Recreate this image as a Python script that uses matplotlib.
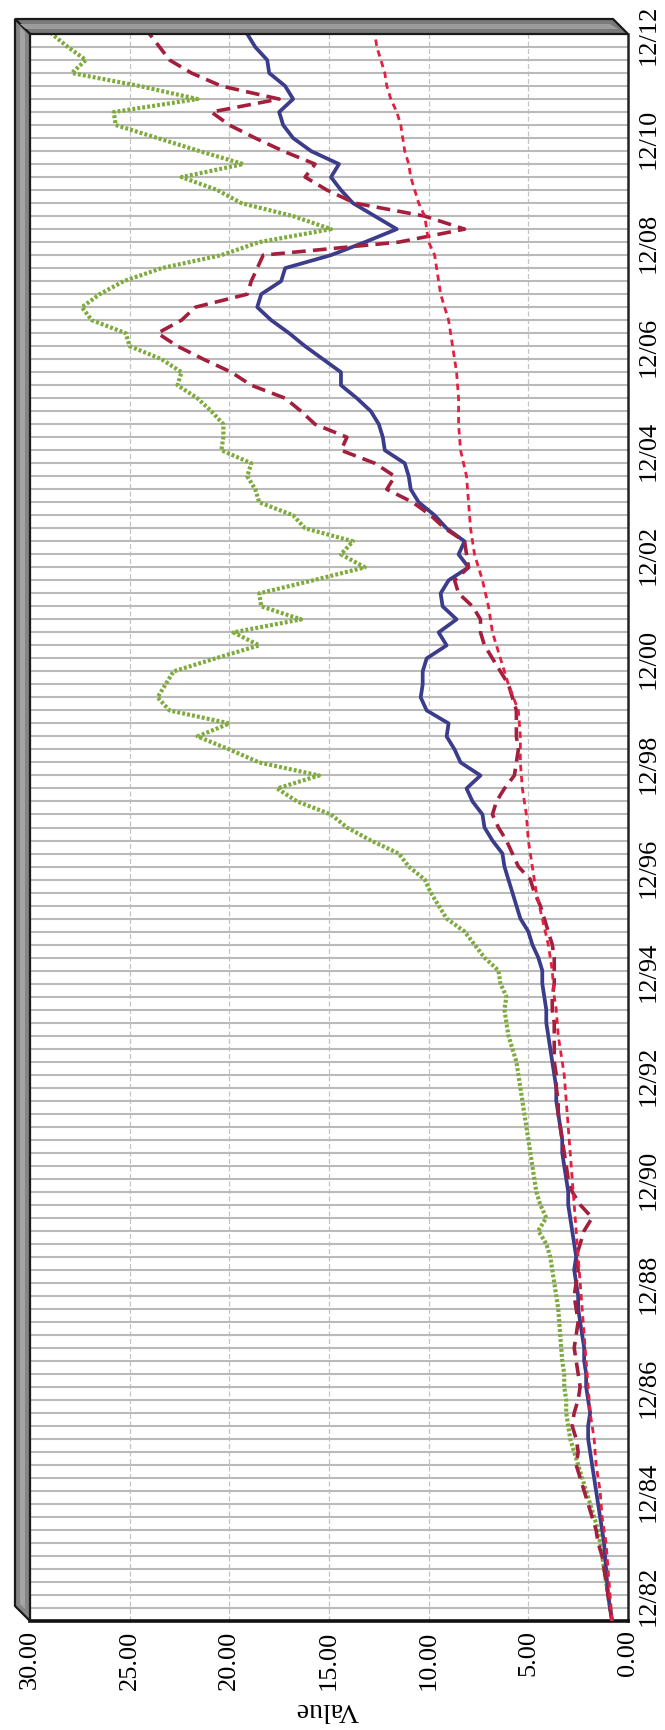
import matplotlib
matplotlib.use("Agg")
import matplotlib.pyplot as plt
from matplotlib.patches import Polygon
from matplotlib.ticker import MultipleLocator, FixedLocator

# ---------------- data (quarterly, 6/82 .. 12/12) ----------------
years_lbl = ["82", "84", "86", "88", "90", "92", "94", "96", "98", "00",
             "02", "04", "06", "08", "10", "12"]
tick_labels = ["12/" + y for y in years_lbl]
value_ticks = [0, 5, 10, 15, 20, 25, 30]

blue = [0.8, 0.9, 1.0, 1.05, 1.1, 1.15, 1.2, 1.3, 1.4, 1.5, 1.6, 1.7, 1.8, 1.9, 2.0, 2.0,
        1.9, 2.0, 2.1, 2.1, 2.2, 2.2, 2.3, 2.4, 2.5, 2.5, 2.6, 2.7, 2.6, 2.7, 2.8, 2.9,
        3.0, 3.0, 3.1, 3.2, 3.3, 3.3, 3.4, 3.5, 3.6, 3.6, 3.7, 3.8, 3.9, 4.0, 4.1, 4.1,
        4.2, 4.3, 4.3, 4.5, 4.8, 5.0, 5.4, 5.6, 5.8, 6.0, 6.2, 6.3, 6.8, 7.2, 7.3, 7.8,
        8.1, 7.4, 8.4, 8.7, 9.1, 9.0,
        10.1, 10.4, 10.3, 10.3, 10.1, 9.1, 9.5, 8.6, 9.3, 9.4, 9.0, 8.0, 8.5, 8.2, 9.1, 9.7,
        10.5, 10.9, 11.0, 11.2, 12.2, 12.3, 12.5, 12.9, 13.6, 14.4, 14.4, 15.3, 16.2, 17.0,
        17.9, 18.6,
        18.4, 17.4, 17.2, 14.9, 13.2, 11.6, 12.7, 13.8, 14.4, 14.9, 14.5, 15.9, 16.8, 17.3,
        17.5, 16.8, 17.2, 18.0, 18.1, 18.7, 19.1]

maroon = [0.8, 0.9, 1.0, 1.1, 1.2, 1.3, 1.5, 1.6, 1.8, 2.0, 2.2, 2.4, 2.6, 2.5, 2.6, 2.8,
          2.7, 2.5, 2.4, 2.5, 2.6, 2.7, 2.6, 2.5, 2.6, 2.7, 2.6, 2.5, 2.6, 2.4, 2.2, 1.8,
          2.4, 2.8, 3.0, 3.1, 3.2, 3.3, 3.4, 3.5, 3.5, 3.6, 3.6, 3.7, 3.7, 3.7, 3.7, 3.8,
          3.8, 3.7, 3.7, 3.7, 3.8, 4.0, 4.2, 4.4, 4.7, 4.9, 5.5, 5.8, 6.1, 6.5, 6.8, 6.6,
          6.2, 5.7, 5.6, 5.5, 5.6, 5.6,
          5.6, 5.8, 6.0, 6.4, 6.8, 7.2, 7.4, 7.4, 7.8, 8.5, 8.7, 8.0, 8.1, 8.2, 9.2, 9.9,
          10.8, 12.1, 11.7, 12.7, 14.4, 14.1, 15.7, 16.4, 17.2, 18.9, 19.9, 21.3, 22.6, 23.6,
          22.4, 21.7,
          19.1, 18.9, 18.6, 18.3, 11.5, 8.2, 10.2, 13.7, 15.1, 16.2, 15.7, 17.3, 18.7, 20.0,
          20.9, 17.5, 20.4, 21.9, 23.0, 23.5, 24.0]

crimson = [0.8, 0.85, 0.9, 0.95, 1.0, 1.05, 1.1, 1.2, 1.3, 1.35, 1.4, 1.5, 1.6, 1.65, 1.7, 1.8,
           1.9, 1.95, 2.0, 2.05, 2.1, 2.15, 2.2, 2.25, 2.3, 2.35, 2.4, 2.45, 2.5, 2.55, 2.6, 2.65,
           2.7, 2.75, 2.8, 2.85, 2.9, 2.95, 3.0, 3.05, 3.1, 3.15, 3.2, 3.3, 3.4, 3.5, 3.55, 3.6,
           3.7, 3.75, 3.8, 3.9, 4.0, 4.15, 4.3, 4.45, 4.6, 4.7, 4.8, 4.9, 5.0, 5.05, 5.1, 5.2,
           5.3, 5.35, 5.4, 5.4, 5.4, 5.45,
           5.5, 5.75, 6.0, 6.2, 6.4, 6.6, 6.8, 6.9, 7.0, 7.15, 7.3, 7.5, 7.7, 7.8, 7.9, 7.95,
           8.0, 8.05, 8.1, 8.25, 8.4, 8.45, 8.5, 8.5, 8.5, 8.55, 8.6, 8.7, 8.8, 8.9,
           9.0, 9.2,
           9.4, 9.5, 9.6, 9.7, 10.0, 10.1, 10.2, 10.5, 10.7, 10.9, 11.0, 11.2, 11.3, 11.4,
           11.6, 11.9, 12.1, 12.2, 12.4, 12.6, 12.7]

green = [0.8, 0.9, 1.0, 1.1, 1.2, 1.3, 1.4, 1.5, 1.7, 1.9, 2.1, 2.3, 2.5, 2.7, 2.9, 3.0,
         3.1, 3.1, 3.2, 3.2, 3.3, 3.35, 3.4, 3.45, 3.5, 3.6, 3.7, 3.8, 3.9, 4.1, 4.5, 4.1,
         4.4, 4.6, 4.7, 4.8, 4.9, 5.0, 5.1, 5.2, 5.3, 5.4, 5.5, 5.6, 5.8, 6.0, 6.1, 6.2,
         6.1, 6.4, 6.5, 7.2, 7.7, 8.2, 9.1, 9.5, 9.9, 10.2, 11.0, 11.5, 12.9, 14.1, 14.9, 16.6,
         17.6, 15.5, 18.5, 20.0, 21.6, 20.0,
         23.0, 23.6, 23.2, 22.8, 20.7, 18.5, 19.8, 16.4, 18.4, 18.5, 15.8, 13.2, 14.4, 13.8,
         16.2, 16.8, 18.5, 18.7, 19.1, 18.9, 20.4, 20.3, 20.3, 20.9, 21.6, 22.6, 22.4, 23.4,
         25.0, 25.2, 26.9, 27.4,
         26.5, 25.3, 23.4, 20.4, 18.5, 14.9, 16.8, 19.4, 20.6, 22.4, 19.3, 21.5, 23.6, 25.7,
         25.8, 21.6, 24.5, 27.9, 27.2, 28.1, 28.9]

n = len(blue)
idx = list(range(n))
label_pos = [2 + 8 * k for k in range(len(tick_labels))]

W, H = 665, 1731
fig = plt.figure(figsize=(W / 100, H / 100), dpi=100)
fig.patch.set_facecolor("white")

L, R, T, B = 30, 628, 35, 1622
ax = fig.add_axes([L / W, 1 - B / H, (R - L) / W, (B - T) / H])
ax.set_facecolor("white")
ax.set_xlim(30, 0)
ax.set_ylim(0, n - 1)

# grid
ax.yaxis.set_minor_locator(MultipleLocator(1))
ax.yaxis.set_major_locator(FixedLocator(label_pos))
ax.grid(which="both", axis="y", color="#bababa", lw=1.5, zorder=0)
ax.set_xticks(value_ticks)
ax.grid(which="major", axis="x", color="#c4c4c4", lw=0.9, ls=(0, (4, 2)), zorder=0)
ax.set_axisbelow(True)

serif = ["Liberation Serif", "DejaVu Serif"]
ax.set_xticklabels(["%.2f" % v for v in value_ticks], rotation=90,
                   fontsize=19, family=serif)
ax.yaxis.tick_right()
ax.set_yticklabels(tick_labels, rotation=90, va="center", fontsize=19, family=serif)
ax.tick_params(axis="x", which="both", length=0, pad=6)
ax.tick_params(axis="y", which="both", length=0, pad=7)

for s in ["left", "top"]:
    ax.spines[s].set_visible(False)
ax.spines["right"].set_color("#222222")
ax.spines["right"].set_linewidth(1.8)
ax.spines["bottom"].set_color("#111111")
ax.spines["bottom"].set_linewidth(2.6)

# series
ax.plot(green, idx, color="#7eab3c", lw=3.0, ls=(0, (0.7, 0.5)), zorder=3,
        dash_capstyle="butt")
ax.plot(blue, idx, color="#3c3c8c", lw=2.7, zorder=4)
ax.plot(maroon, idx, color="#a41f3d", lw=2.6, ls=(0, (3.8, 2.0)), zorder=5)
ax.plot(crimson, idx, color="#e3203f", lw=2.0, ls=(0, (2.3, 1.7)), zorder=6)

# 3D walls
def P(px, py):
    return (px / W, 1 - py / H)

top_wall = Polygon([P(15, 20), P(613, 20), P(628, 35), P(30, 35)], closed=True,
                   transform=fig.transFigure, facecolor="#7a7a7a", edgecolor="#1a1a1a",
                   lw=1.6, zorder=2)
left_wall = Polygon([P(15, 20), P(30, 35), P(30, 1622), P(15, 1607)], closed=True,
                    transform=fig.transFigure, facecolor="#858585", edgecolor="#1a1a1a",
                    lw=1.6, zorder=2)
fig.patches.extend([top_wall, left_wall])
fig.patches.append(Polygon([P(20, 25), P(610, 25), P(618, 30), P(26, 30)], closed=True,
                           transform=fig.transFigure, facecolor="#9c9c9c",
                           edgecolor="none", zorder=2))
fig.patches.append(Polygon([P(20, 28), P(25, 33), P(25, 1610), P(20, 1605)], closed=True,
                           transform=fig.transFigure, facecolor="#a4a4a4",
                           edgecolor="none", zorder=2))

fig.text(327 / W, 1 - 1710 / H, "Value", rotation=180, ha="center", va="center",
         fontsize=20, family=serif)

fig.savefig("out.png", dpi=100, facecolor="white")
